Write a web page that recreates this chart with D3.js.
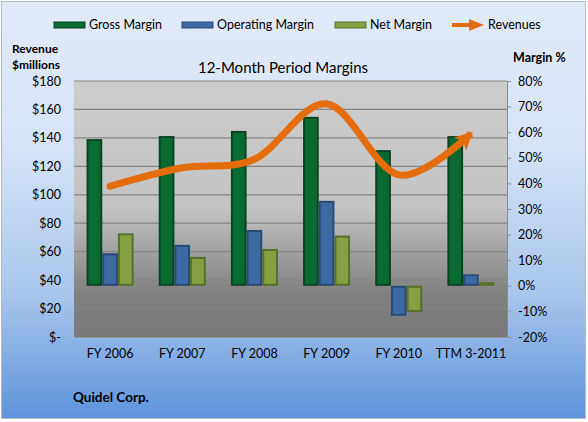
<!DOCTYPE html>
<html>
<head>
<meta charset="utf-8">
<script src="https://cdn.jsdelivr.net/npm/d3@7"></script>
<style>
  body { margin: 0; background: #fff; }
  text { font-family: Lato, "Open Sans", sans-serif; fill: #000; }
</style>
</head>
<body>
<div id="chart"></div>
<script>
// chart data
const categories = ["FY 2006", "FY 2007", "FY 2008", "FY 2009", "FY 2010", "TTM 3-2011"];
const grossMargin = [57.3, 58.5, 60.5, 66.0, 53.0, 58.5];
const operatingMargin = [12.7, 16.0, 21.8, 33.2, -11.7, 4.5];
const netMargin = [20.5, 11.3, 14.4, 19.6, -10.2, 1.4];
const revenues = [106, 119, 125, 164, 114, 143];
const revenueTicks = [0, 20, 40, 60, 80, 100, 120, 140, 160, 180];
const marginTicks = [-20, -10, 0, 10, 20, 30, 40, 50, 60, 70, 80];

const series = [
  { name: "Gross Margin", values: grossMargin, fill: "#0a6b32", edge: "#084522" },
  { name: "Operating Margin", values: operatingMargin, fill: "#3d69a2", edge: "#284a76" },
  { name: "Net Margin", values: netMargin, fill: "#84a043", edge: "#58702b" }
];

const width = 588, height = 422;
const plot = { left: 74, right: 507, top: 81, bottom: 337 };
const orange = "#e46c0a";

const svg = d3.select("#chart").append("svg")
  .attr("width", width)
  .attr("height", height);

const defs = svg.append("defs");

// chart area background
const bg = defs.append("linearGradient").attr("id", "bg")
  .attr("x1", 0).attr("y1", 0).attr("x2", 0).attr("y2", 1);
bg.append("stop").attr("offset", 0).attr("stop-color", "#e1eaf8");
bg.append("stop").attr("offset", 0.35).attr("stop-color", "#d6e3f7");
bg.append("stop").attr("offset", 0.7).attr("stop-color", "#a9c6ec");
bg.append("stop").attr("offset", 1).attr("stop-color", "#5d94dc");

// plot area background
const pg = defs.append("linearGradient").attr("id", "pg")
  .attr("x1", 0).attr("y1", 0).attr("x2", 0).attr("y2", 1);
pg.append("stop").attr("offset", 0).attr("stop-color", "#cdcdcd");
pg.append("stop").attr("offset", 0.5).attr("stop-color", "#c3c3c3");
pg.append("stop").attr("offset", 0.83).attr("stop-color", "#808080");
pg.append("stop").attr("offset", 1).attr("stop-color", "#797979");

defs.append("marker")
  .attr("id", "arrow")
  .attr("markerUnits", "userSpaceOnUse")
  .attr("viewBox", "0 0 10 10")
  .attr("refX", 8.5).attr("refY", 5)
  .attr("markerWidth", 18).attr("markerHeight", 18)
  .attr("orient", "auto")
  .append("path")
  .attr("d", "M0,0 L10,5 L0,10 L2.5,5 Z")
  .attr("fill", orange);

svg.append("rect")
  .attr("x", 1.5).attr("y", 1.5)
  .attr("width", 584).attr("height", 417)
  .attr("fill", "url(#bg)")
  .attr("stroke", "#b4bcc8");

svg.append("rect")
  .attr("x", plot.left).attr("y", plot.top)
  .attr("width", plot.right - plot.left).attr("height", plot.bottom - plot.top)
  .attr("fill", "url(#pg)");

// scales
const x0 = d3.scaleBand().domain(categories).range([plot.left, plot.right]);
const x1 = d3.scaleBand().domain(series.map(s => s.name))
  .range([0, x0.bandwidth()]).paddingOuter(0.8);
const yRev = d3.scaleLinear().domain([0, 180]).range([plot.bottom, plot.top]);
const yPct = d3.scaleLinear().domain([-20, 80]).range([plot.bottom, plot.top]);

// gridlines
svg.append("g")
  .selectAll("line")
  .data(revenueTicks.slice(1))
  .enter().append("line")
  .attr("x1", plot.left).attr("x2", plot.right)
  .attr("y1", d => yRev(d)).attr("y2", d => yRev(d))
  .attr("stroke", "#858585").attr("stroke-width", 1.2);

// left axis
const leftAxis = svg.append("g")
  .attr("transform", `translate(${plot.left},0)`)
  .call(d3.axisLeft(yRev).tickValues(revenueTicks).tickSize(0).tickPadding(13)
    .tickFormat(d => d === 0 ? "$-" : "$" + d));
leftAxis.select(".domain").remove();
leftAxis.selectAll("text").style("font-size", "12.5px").attr("fill", "#000");

// right axis
const rightAxis = svg.append("g")
  .attr("transform", `translate(${plot.right},0)`)
  .call(d3.axisRight(yPct).tickValues(marginTicks).tickSize(4).tickPadding(7)
    .tickFormat(d => d + "%"));
rightAxis.select(".domain").attr("stroke", "#8a8a8a");
rightAxis.selectAll(".tick line").attr("stroke", "#8a8a8a");
rightAxis.selectAll("text").style("font-size", "12.5px").attr("fill", "#000");

// bottom axis
const bottomAxis = svg.append("g")
  .attr("transform", `translate(0,${plot.bottom})`)
  .call(d3.axisBottom(x0).tickSize(0).tickPadding(12));
bottomAxis.select(".domain").attr("stroke", "#9a9a9a");
bottomAxis.selectAll("text").style("font-size", "12.5px").attr("fill", "#000");

// bars
series.forEach(s => {
  const g = svg.append("g");
  const bars = g.selectAll("g")
    .data(s.values.map((v, i) => ({ cat: categories[i], v })))
    .enter().append("g");
  const bx = d => x0(d.cat) + x1(s.name);
  const by = d => Math.min(yPct(d.v), yPct(0));
  const bh = d => Math.abs(yPct(d.v) - yPct(0));
  bars.append("rect")
    .attr("x", bx).attr("y", by)
    .attr("width", x1.bandwidth()).attr("height", bh)
    .attr("fill", s.edge);
  bars.append("rect")
    .attr("x", d => bx(d) + 2).attr("y", d => by(d) + 2)
    .attr("width", x1.bandwidth() - 4).attr("height", d => Math.max(0, bh(d) - 4))
    .attr("fill", s.fill);
});

// revenue line
const lineX = (d, i) => x0(categories[i]) + x0.bandwidth() / 2;
const line = d3.line()
  .x(lineX)
  .y(d => yRev(d))
  .curve(d3.curveCardinal.tension(0));

svg.append("path")
  .datum(revenues)
  .attr("d", line)
  .attr("fill", "none")
  .attr("stroke", orange)
  .attr("stroke-width", 7)
  .attr("marker-end", "url(#arrow)");

svg.append("circle")
  .attr("cx", lineX(revenues[0], 0))
  .attr("cy", yRev(revenues[0]))
  .attr("r", 3.5)
  .attr("fill", orange);

// legend
const legend = svg.append("g").attr("transform", "translate(0,25)");
const legendX = [54, 182, 335];
series.forEach((s, i) => {
  legend.append("rect")
    .attr("x", legendX[i]).attr("y", -3)
    .attr("width", 31).attr("height", 6)
    .attr("fill", s.fill).attr("stroke", s.edge);
  legend.append("text")
    .attr("x", legendX[i] + 35).attr("y", 0)
    .attr("dy", "0.35em")
    .style("font-size", "12.5px")
    .text(s.name);
});
legend.append("line")
  .attr("x1", 452).attr("x2", 472)
  .attr("y1", 0).attr("y2", 0)
  .attr("stroke", orange).attr("stroke-width", 4);
legend.append("path")
  .attr("d", "M469,-6 L484,0 L469,6 Z")
  .attr("fill", orange);
legend.append("text")
  .attr("x", 488).attr("y", 0).attr("dy", "0.35em")
  .style("font-size", "12.5px")
  .text("Revenues");

// titles
svg.append("text")
  .attr("x", 283).attr("y", 73)
  .attr("text-anchor", "middle")
  .style("font-size", "15px")
  .text("12-Month Period Margins");

svg.append("text").attr("x", 12).attr("y", 53)
  .style("font-size", "12px").style("font-weight", "bold").text("Revenue");
svg.append("text").attr("x", 12).attr("y", 69)
  .style("font-size", "12px").style("font-weight", "bold").text("$millions");
svg.append("text").attr("x", 513).attr("y", 62)
  .style("font-size", "12.5px").style("font-weight", "bold").text("Margin %");
svg.append("text").attr("x", 73).attr("y", 402)
  .style("font-size", "13.5px").style("font-weight", "bold").text("Quidel Corp.");
</script>
</body>
</html>
